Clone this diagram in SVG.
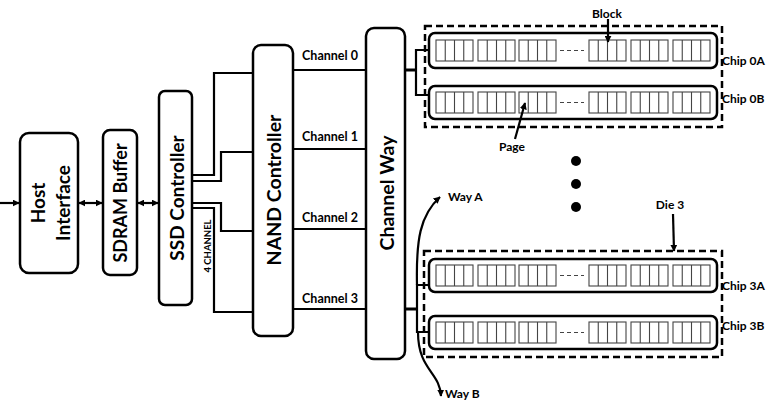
<svg xmlns="http://www.w3.org/2000/svg" width="775" height="401" viewBox="0 0 775 401">
<style>
.box{fill:#fff;stroke:#000;stroke-width:2.5}
.lbl{font-family:Lato,"Liberation Sans",sans-serif;font-weight:bold;fill:#000}
.big{font-size:19px;text-anchor:middle;dominant-baseline:central}
.sm{font-size:12px}
.wire{fill:none;stroke:#000;stroke-width:2.2}
.chip{fill:#fff;stroke:#000;stroke-width:2.5}
.die{fill:none;stroke:#000;stroke-width:2.5;stroke-dasharray:7,4}
.blk{fill:none;stroke:#444;stroke-width:1.1}
.dash{stroke:#444;stroke-width:1.2;stroke-dasharray:4,3}
</style>
<defs>
<marker id="ah" viewBox="0 0 10 10" refX="9" refY="5" markerWidth="7" markerHeight="7" orient="auto-start-reverse" markerUnits="userSpaceOnUse">
<path d="M0,0 L10,5 L0,10 z" fill="#000"/>
</marker>
<g id="block">
<rect class="blk" x="0" y="0" width="37" height="21"/>
<path class="blk" d="M9.25,0V21M18.5,0V21M27.75,0V21"/>
</g>
<g id="blocks">
<use href="#block" x="436"/><use href="#block" x="478"/><use href="#block" x="519"/>
<line class="dash" x1="560" y1="10.5" x2="584" y2="10.5"/>
<use href="#block" x="589"/><use href="#block" x="631"/><use href="#block" x="673"/>
</g>
</defs>

<g id="host">
<rect class="box" x="20" y="133" width="58" height="140" rx="9"/>
<text class="lbl big" font-size="18" transform="translate(37,203) rotate(-90)">Host</text>
<text class="lbl big" font-size="18" transform="translate(62,203) rotate(-90)">Interface</text>
</g>
<g id="sdram">
<rect class="box" x="103" y="130" width="34" height="145" rx="7"/>
<text class="lbl big" style="font-size:18px" transform="translate(120,203) rotate(-90)">SDRAM Buffer</text>
</g>
<g id="ssd">
<rect class="box" x="159" y="91" width="33" height="214" rx="6"/>
<text class="lbl big" transform="translate(176,198) rotate(-90)">SSD Controller</text>
<text class="lbl" font-size="9.5" text-anchor="middle" dominant-baseline="central" transform="translate(207,246) rotate(-90)">4 CHANNEL</text>
</g>
<g id="nand">
<rect class="box" x="253" y="45" width="40" height="291" rx="8"/>
<text class="lbl big" style="font-size:19.5px" transform="translate(273,190) rotate(-90)">NAND Controller</text>
</g>
<g id="channelway">
<rect class="box" x="366" y="28" width="39" height="331" rx="8"/>
<text class="lbl big" style="font-size:19.5px" transform="translate(386,193) rotate(-90)">Channel Way</text>
</g>
<g id="channel-labels" class="lbl" font-size="12.5" text-anchor="middle">
<text x="330" y="60">Channel 0</text>
<text x="330" y="141">Channel 1</text>
<text x="330" y="222">Channel 2</text>
<text x="330" y="303">Channel 3</text>
</g>

<g id="die0">
<rect class="die" x="425" y="26" width="297" height="101"/>
<g id="chip0A">
<rect class="chip" x="429" y="33" width="288" height="35" rx="6"/>
<use href="#blocks" y="40"/>
<text class="lbl sm" x="722" y="65">Chip 0A</text>
</g>
<g id="chip0B">
<rect class="chip" x="429" y="86" width="288" height="33" rx="6"/>
<use href="#blocks" y="92"/>
<text class="lbl sm" x="722" y="103">Chip 0B</text>
</g>
</g>

<g id="dots">
<circle cx="576" cy="161" r="5"/>
<circle cx="576" cy="184" r="5"/>
<circle cx="576" cy="207" r="5"/>
</g>

<g id="die3">
<rect class="die" x="424" y="251" width="298" height="106"/>
<g id="chip3A">
<rect class="chip" x="429" y="259" width="288" height="33" rx="6"/>
<use href="#blocks" y="265"/>
<text class="lbl sm" x="722" y="290">Chip 3A</text>
</g>
<g id="chip3B">
<rect class="chip" x="429" y="316" width="288" height="33" rx="6"/>
<use href="#blocks" y="322"/>
<text class="lbl sm" x="722" y="330">Chip 3B</text>
</g>
</g>

<g id="annotations" class="lbl sm">
<text x="607" y="18" text-anchor="middle">Block</text>
<text x="512" y="151" text-anchor="middle">Page</text>
<text x="670" y="209" text-anchor="middle">Die 3</text>
<text x="448" y="201">Way A</text>
<text x="445" y="398">Way B</text>
</g>

<g id="connectors">
<line class="wire" x1="0" y1="203" x2="19" y2="203" marker-end="url(#ah)"/>
<line class="wire" x1="79" y1="203" x2="102" y2="203" marker-start="url(#ah)" marker-end="url(#ah)"/>
<line class="wire" x1="138" y1="203" x2="158" y2="203" marker-start="url(#ah)" marker-end="url(#ah)"/>
<polyline class="wire" points="192,175 214,175 214,73 253,73"/>
<polyline class="wire" points="192,181 221,181 221,152 253,152"/>
<polyline class="wire" points="192,203 221,203 221,231 253,231"/>
<polyline class="wire" points="192,208 214,208 214,312 253,312"/>
<line class="wire" x1="293" y1="70" x2="366" y2="70"/>
<line class="wire" x1="293" y1="149" x2="366" y2="149"/>
<line class="wire" x1="293" y1="229" x2="366" y2="229"/>
<line class="wire" x1="293" y1="309" x2="366" y2="309"/>
<line x1="405" y1="70" x2="416" y2="70" stroke="#000" stroke-width="3"/>
<polyline class="wire" points="429,50 416,50 416,95 429,95"/>
<line x1="405" y1="309" x2="417" y2="309" stroke="#000" stroke-width="3"/>
<polyline class="wire" points="429,285 417,285 417,332 429,332"/>
<path class="wire" d="M417,285 C416,240 420,215 440,197" marker-end="url(#ah)"/>
<path class="wire" d="M418,332 C418,370 440,372 441,396" marker-end="url(#ah)"/>
<line class="wire" x1="608" y1="19" x2="608" y2="42" marker-end="url(#ah)"/>
<line class="wire" x1="515" y1="139" x2="525" y2="103" marker-end="url(#ah)"/>
<line class="wire" x1="673" y1="214" x2="674" y2="251" marker-end="url(#ah)"/>
</g>
</svg>
